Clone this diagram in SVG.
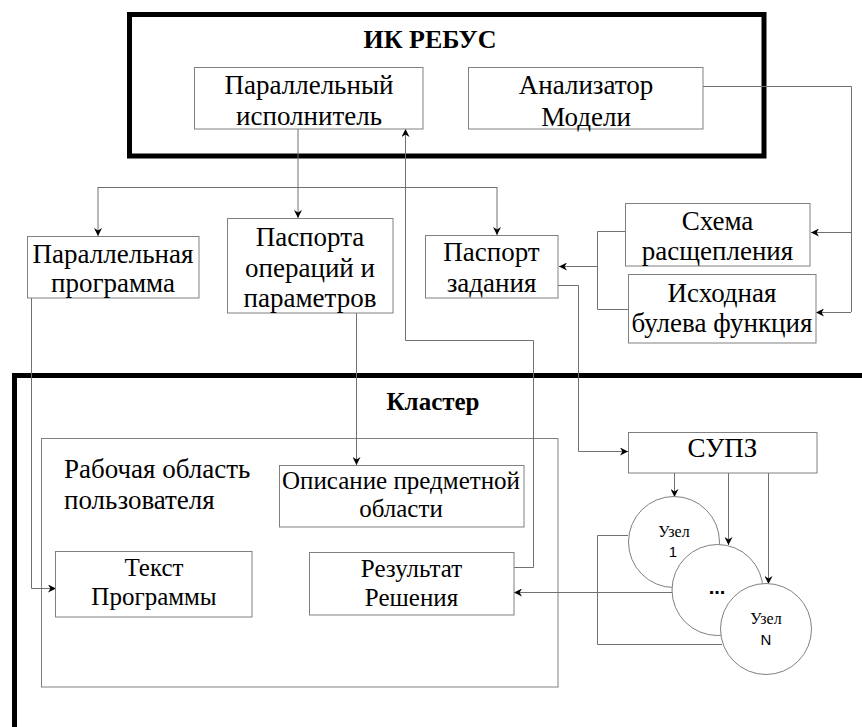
<svg xmlns="http://www.w3.org/2000/svg" width="862" height="727" viewBox="0 0 862 727">
<style>
.frame{fill:none;stroke:#000;stroke-width:5}
.box{fill:#fff;stroke:#808080;stroke-width:1}
.area{fill:none;stroke:#808080;stroke-width:1}
.node{fill:#fff;stroke:#808080;stroke-width:1}
.c{fill:none;stroke:#707070;stroke-width:1}
.ca{fill:none;stroke:#707070;stroke-width:1;marker-end:url(#a)}
text{font-family:"Liberation Serif","Times New Roman",serif;fill:#000}
.t{font-size:27px;text-anchor:middle}
.s{font-size:25px;text-anchor:middle}
.h{font-size:26px;font-weight:bold;text-anchor:middle}
.u{font-size:16px;text-anchor:middle}
.n{font-family:"Liberation Sans",Arial,sans-serif;font-size:15px;text-anchor:middle}
</style>
<defs>
<marker id="a" viewBox="0 0 10 10" refX="10" refY="5" markerWidth="8" markerHeight="8" markerUnits="userSpaceOnUse" orient="auto">
<path d="M0,0 L10,5 L0,10 L3,5 z" fill="#000"/>
</marker>
</defs>
<rect width="862" height="727" fill="#fff"/>

<g id="ik-rebus">
<rect class="frame" x="129.5" y="14.5" width="634.5" height="141.5"/>
<text class="h" x="430" y="48">ИК РЕБУС</text>
</g>
<g id="cluster">
<rect class="frame" x="14.5" y="375.5" width="900" height="400"/>
<text class="h" x="433" y="410" style="font-size:25px">Кластер</text>
</g>
<g id="workspace">
<rect class="area" x="41.5" y="438.5" width="516.5" height="248.5"/>
<text x="64" y="478" style="font-size:27px">Рабочая область</text>
<text x="64" y="509" style="font-size:27px">пользователя</text>
</g>

<g id="connectors">
<path class="ca" d="M298,129 V218"/>
<path class="c" d="M98,187.5 H497"/>
<path class="ca" d="M98,187 V236"/>
<path class="ca" d="M497,187 V235"/>
<path class="c" d="M703,86.5 H851.5 V312"/>
<path class="ca" d="M851,232.5 H811"/>
<path class="ca" d="M851,312.5 H816"/>
<path class="c" d="M625,231.5 H597.5 V309.5 H628"/>
<path class="ca" d="M597,266.5 H559"/>
<path class="ca" d="M558,285.5 H578.5 V451.5 H628"/>
<path class="ca" d="M31.5,298 V588.5 H56"/>
<path class="ca" d="M356.5,313 V465"/>
<path class="ca" d="M514,567.5 H533.5 V340.5 H405.5 V129"/>
<path class="ca" d="M672,592.5 H514"/>
<path class="ca" d="M674.5,473 V497"/>
<path class="ca" d="M728.5,473 V545"/>
<path class="ca" d="M768.5,473 V584"/>
<path class="c" d="M628,535.5 H597.5 V644.5 H722"/>
</g>

<g id="par-executor">
<rect class="box" x="194.5" y="67.5" width="228.5" height="61.5"/>
<text class="t" x="309" y="94">Параллельный</text>
<text class="t" x="309" y="125">исполнитель</text>
</g>
<g id="model-analyzer">
<rect class="box" x="468.5" y="67.5" width="234.5" height="61.5"/>
<text class="t" x="586" y="94">Анализатор</text>
<text class="t" x="586" y="126">Модели</text>
</g>
<g id="par-program">
<rect class="box" x="27.5" y="236.5" width="171.5" height="61.5"/>
<text class="t" x="113" y="263">Параллельная</text>
<text class="t" x="113" y="292">программа</text>
</g>
<g id="op-passports">
<rect class="box" x="227.5" y="218.5" width="165.5" height="94.5"/>
<text class="t" x="310" y="246">Паспорта</text>
<text class="t" x="310" y="277">операций и</text>
<text class="t" x="310" y="307">параметров</text>
</g>
<g id="task-passport">
<rect class="box" x="425.5" y="235.5" width="132.5" height="62.5"/>
<text class="t" x="491.5" y="261">Паспорт</text>
<text class="t" x="491.5" y="292">задания</text>
</g>
<g id="split-scheme">
<rect class="box" x="625.5" y="203.5" width="184.5" height="62.5"/>
<text class="t" x="717.5" y="230">Схема</text>
<text class="t" x="717.5" y="260">расщепления</text>
</g>
<g id="bool-func">
<rect class="box" x="628.5" y="274.5" width="187.5" height="68.5"/>
<text class="t" x="722" y="302">Исходная</text>
<text class="t" x="722" y="332">булева функция</text>
</g>
<g id="supz">
<rect class="box" x="628.5" y="432.5" width="188.5" height="40.5"/>
<text class="t" x="722.5" y="457">СУПЗ</text>
</g>
<g id="domain">
<rect class="box" x="279.5" y="465.5" width="244.5" height="61.5"/>
<text class="s" x="401" y="489">Описание предметной</text>
<text class="s" x="401" y="517">области</text>
</g>
<g id="prog-text">
<rect class="box" x="55.5" y="551.5" width="196.5" height="65.5"/>
<text class="s" x="154" y="576">Текст</text>
<text class="s" x="154" y="605">Программы</text>
</g>
<g id="result">
<rect class="box" x="309.5" y="552.5" width="204.5" height="62.5"/>
<text class="s" x="411.5" y="577">Результат</text>
<text class="s" x="411.5" y="606">Решения</text>
</g>
<g id="node-1">
<circle class="node" cx="674" cy="542" r="45.5"/>
<text class="u" x="674" y="537">Узел</text>
<text class="n" x="673" y="557">1</text>
</g>
<g id="node-dots">
<circle class="node" cx="717.5" cy="590" r="45.5"/>
<text class="n" x="717" y="594" style="font-weight:bold;font-size:20px">...</text>
</g>
<g id="node-n">
<circle class="node" cx="766" cy="629" r="45.5"/>
<text class="u" x="766" y="624">Узел</text>
<text class="n" x="766" y="645">N</text>
</g>
</svg>
